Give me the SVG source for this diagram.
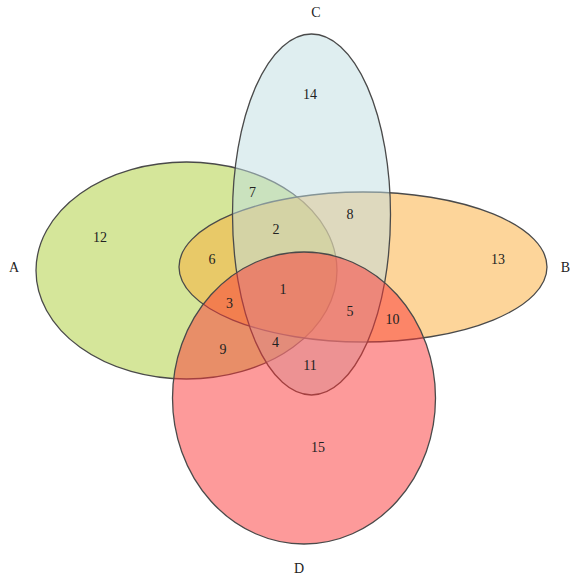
<svg xmlns="http://www.w3.org/2000/svg" width="571" height="578" viewBox="0 0 571 578">
<style>
.set{stroke:#4a4a4a;stroke-width:1.3;fill-opacity:0.5}
text{font-family:"Liberation Serif","Times New Roman",serif;font-size:14px;fill:#222;text-anchor:middle}
</style>
<rect width="571" height="578" fill="#ffffff"/>
<g id="setA"><ellipse class="set" cx="186.5" cy="270.5" rx="150.5" ry="108.5" fill="#abcd35"/></g>
<g id="setB"><ellipse class="set" cx="363" cy="267" rx="184" ry="75" fill="#fbab35"/></g>
<g id="setC"><ellipse class="set" cx="311.5" cy="214.5" rx="79" ry="180.5" fill="#bfdde1"/></g>
<g id="setD"><ellipse class="set" cx="304" cy="398" rx="131.5" ry="146" fill="#fb3535"/></g>
<g id="set-labels">
<text x="14" y="272">A</text>
<text x="565.5" y="272">B</text>
<text x="316" y="17">C</text>
<text x="299" y="573">D</text>
</g>
<g id="region-labels">
<text x="310" y="99">14</text>
<text x="252.5" y="197">7</text>
<text x="350" y="219">8</text>
<text x="100" y="242">12</text>
<text x="276" y="234">2</text>
<text x="212" y="264">6</text>
<text x="498" y="264">13</text>
<text x="283" y="294">1</text>
<text x="229.5" y="308">3</text>
<text x="350" y="316">5</text>
<text x="392.5" y="324">10</text>
<text x="223" y="354">9</text>
<text x="275.5" y="347">4</text>
<text x="310" y="370">11</text>
<text x="318" y="452">15</text>
</g>
</svg>
